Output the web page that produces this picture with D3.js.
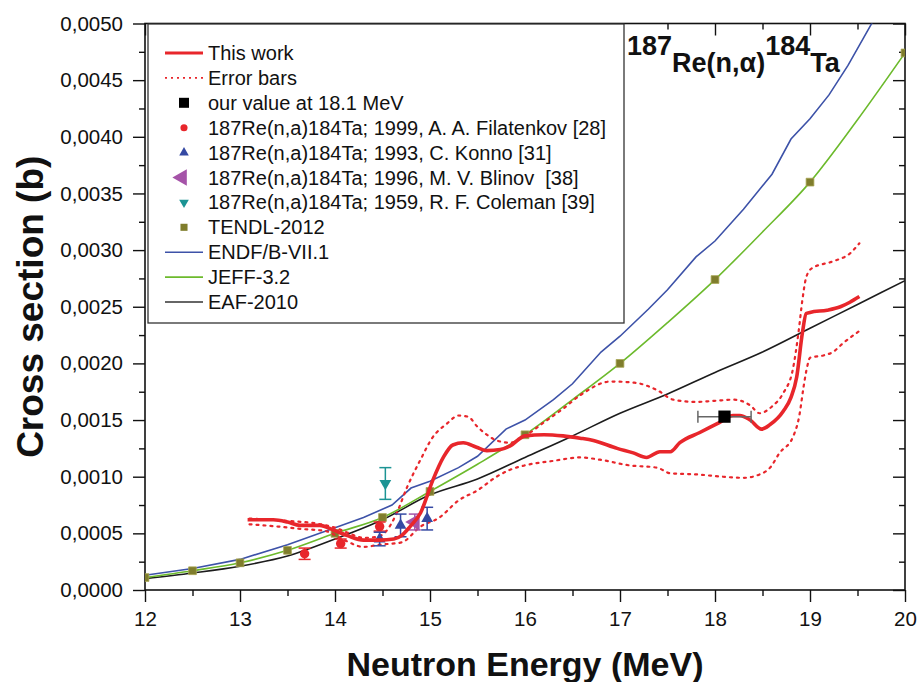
<!DOCTYPE html>
<html>
<head>
<meta charset="utf-8">
<script src="https://cdn.jsdelivr.net/npm/d3@7"></script>
<style>
  html, body { margin: 0; padding: 0; background: #fff; }
  svg { display: block; font-family: "Liberation Sans", Arial, sans-serif; }
</style>
</head>
<body>
<svg id="chart" width="921" height="682"></svg>
<script>
// ---- data: [energy (MeV), cross section (b)] ----
const thisWork = [
  [13.08,0.00062],[13.35,0.00062],[13.5,0.0006],[13.63,0.00057],[13.84,0.00057],[13.98,0.00053],
  [14.13,0.00048],[14.3,0.00044],[14.47,0.00044],[14.62,0.00045],[14.7,0.00048],[14.79,0.00056],
  [14.9,0.00068],[15.03,0.00097],[15.14,0.00117],[15.24,0.00128],[15.35,0.0013],[15.49,0.00126],
  [15.6,0.00123],[15.74,0.00124],[15.84,0.00127],[16.0,0.00136],[16.2,0.00137],[16.4,0.00136],
  [16.58,0.00134],[16.72,0.00132],[16.97,0.00125],[17.14,0.00121],[17.28,0.00117],[17.42,0.00122],
  [17.53,0.00122],[17.63,0.0013],[17.84,0.00139],[18.05,0.00148],[18.19,0.00154],[18.26,0.00154],
  [18.37,0.0015],[18.49,0.00142],[18.58,0.00146],[18.72,0.00158],[18.8,0.0017],[18.86,0.00188],
  [18.92,0.00227],[18.96,0.00244],[19.0,0.00245],[19.18,0.00247],[19.32,0.0025],[19.42,0.00254],
  [19.52,0.00259]
];
const errUpper = [
  [13.1,0.00063],[13.5,0.00061],[13.85,0.00058],[14.0,0.00055],[14.15,0.0005],[14.3,0.00046],
  [14.45,0.00047],[14.55,0.00053],[14.65,0.00068],[14.76,0.00091],[14.9,0.00115],[15.03,0.00135],
  [15.18,0.00147],[15.3,0.00154],[15.4,0.00153],[15.5,0.00144],[15.6,0.00137],[15.7,0.00132],
  [15.84,0.0013],[16.0,0.00136],[16.2,0.00148],[16.4,0.0016],[16.6,0.00173],[16.9,0.00184],
  [17.15,0.00183],[17.4,0.00176],[17.56,0.00168],[17.8,0.00166],[18.0,0.00167],[18.2,0.00168],
  [18.37,0.00163],[18.47,0.00156],[18.6,0.00162],[18.72,0.00174],[18.82,0.00195],[18.88,0.00228],
  [18.92,0.00256],[18.96,0.00276],[19.02,0.00284],[19.24,0.0029],[19.42,0.00297],[19.52,0.00306]
];
const errLower = [
  [13.1,0.00058],[13.4,0.00056],[13.63,0.00054],[13.9,0.00052],[14.1,0.00044],[14.3,0.00038],
  [14.47,0.0004],[14.7,0.00042],[14.9,0.00056],[15.1,0.00064],[15.3,0.00079],[15.5,0.00088],
  [15.7,0.001],[15.84,0.00106],[16.0,0.0011],[16.3,0.00114],[16.58,0.00117],[16.79,0.00115],
  [17.1,0.0011],[17.39,0.00108],[17.53,0.00103],[17.81,0.00102],[18.08,0.001],[18.3,0.00099],
  [18.47,0.00102],[18.58,0.00108],[18.68,0.00121],[18.82,0.00135],[18.89,0.00155],[18.93,0.00178],
  [18.97,0.00197],[19.0,0.00205],[19.14,0.00207],[19.24,0.0021],[19.35,0.00218],[19.51,0.00228]
];
const endf = [
  [12,0.00013],[12.5,0.00019],[13,0.00027],[13.5,0.0004],[14,0.00055],[14.3,0.00064],[14.6,0.00075],
  [14.8,0.0009],[15,0.00096],[15.3,0.00108],[15.5,0.00118],[15.8,0.00142],[16,0.0015],[16.3,0.00168],
  [16.5,0.00182],[16.8,0.0021],[17,0.00224],[17.3,0.00248],[17.5,0.00265],[17.8,0.00294],[18,0.00308],
  [18.3,0.00336],[18.6,0.00367],[18.8,0.00398],[19,0.00416],[19.2,0.00437],[19.4,0.00463],
  [19.65,0.005],[20,0.0056]
];
const jeff = [
  [12,0.00011],[12.5,0.00017],[13,0.00024],[13.5,0.00035],[14,0.0005],[14.5,0.00064],[15,0.00087],
  [15.5,0.00111],[16,0.00137],[16.5,0.00168],[17,0.002],[17.5,0.00236],[18,0.00274],[18.5,0.00316],
  [19,0.0036],[19.5,0.00415],[20,0.00474]
];
const eaf = [
  [12,0.0001],[12.5,0.00015],[13,0.00021],[13.5,0.0003],[14,0.00045],[14.5,0.00062],[15,0.00084],
  [15.5,0.00098],[16,0.00117],[16.5,0.00136],[17,0.00156],[17.5,0.00173],[18,0.00192],[18.5,0.0021],
  [19,0.00231],[19.5,0.00252],[20,0.00273]
];
const tendl = [
  [12,0.00011],[12.5,0.00017],[13,0.00024],[13.5,0.00035],[14,0.0005],[14.5,0.00064],[15,0.00087],
  [16,0.00137],[17,0.002],[18,0.00274],[19,0.0036],[20,0.00474]
];
// experimental points: [energy, value, error]
const ourValue = [[18.1, 0.00153, 0.28]];          // error is in energy (MeV)
const filatenkov = [[13.68,0.00032,0.00005],[14.06,0.00041,0.00004],[14.47,0.00056,0.00004]];
const konno = [[14.47,0.00045,0.00006],[14.69,0.00057,0.0001],[14.97,0.00063,0.0001]];
const blinov = [[14.84,0.0006,0.00007]];
const coleman = [[14.53,0.00094,0.00014]];

const xTicks = [12,13,14,15,16,17,18,19,20];
const yTicks = [0,0.0005,0.001,0.0015,0.002,0.0025,0.003,0.0035,0.004,0.0045,0.005];

const legendItems = [
  "This work", "Error bars", "our value at 18.1 MeV",
  "187Re(n,a)184Ta; 1999, A. A. Filatenkov [28]",
  "187Re(n,a)184Ta; 1993, C. Konno [31]",
  "187Re(n,a)184Ta; 1996, M. V. Blinov  [38]",
  "187Re(n,a)184Ta; 1959, R. F. Coleman [39]",
  "TENDL-2012", "ENDF/B-VII.1", "JEFF-3.2", "EAF-2010"
];

// ---- layout ----
const svg = d3.select("#chart");
const L = 145, R = 905, T = 23.5, B = 590;
const x = d3.scaleLinear().domain([12, 20]).range([L, R]);
const y = d3.scaleLinear().domain([0, 0.005]).range([B, T]);

const C = {
  red: "#e8262b", blue: "#3d52a8", green: "#6cba2c", black: "#1c1c1c",
  olive: "#7f7d2c", teal: "#1c9494", purple: "#a553a8", konno: "#3549a3"
};

svg.append("rect").attr("width", 921).attr("height", 682).attr("fill", "#fff");

svg.append("clipPath").attr("id", "plotclip")
  .append("rect").attr("x", L).attr("y", T).attr("width", R - L).attr("height", B - T);

const fmt = v => d3.format(".4f")(v).replace(".", ",");

// axes
const minorX = d3.range(12.5, 20, 1);
const minorY = d3.range(0.00025, 0.005, 0.0005);

function styleAxis(g) {
  g.selectAll("path").remove();
  g.selectAll("line").attr("stroke", "#111").attr("stroke-width", 1.4);
  g.selectAll("text").attr("fill", "#111").attr("font-size", 20.5);
}

svg.append("g").attr("transform", `translate(0,${B})`)
  .call(d3.axisBottom(x).tickValues(xTicks).tickSize(12).tickPadding(9).tickFormat(d3.format("d")))
  .call(styleAxis);
svg.append("g").attr("transform", `translate(0,${B})`)
  .call(d3.axisBottom(x).tickValues(minorX).tickSize(6).tickFormat(""))
  .call(styleAxis);
svg.append("g").attr("transform", `translate(${L},0)`)
  .call(d3.axisLeft(y).tickValues(yTicks).tickSize(12).tickPadding(10).tickFormat(fmt))
  .call(styleAxis);
svg.append("g").attr("transform", `translate(${L},0)`)
  .call(d3.axisLeft(y).tickValues(minorY).tickSize(6).tickFormat(""))
  .call(styleAxis);
// inward ticks on the top and right edges
svg.append("g").attr("transform", `translate(0,${T})`)
  .call(d3.axisBottom(x).tickValues(xTicks).tickSize(12).tickFormat(""))
  .call(styleAxis);
svg.append("g").attr("transform", `translate(0,${T})`)
  .call(d3.axisBottom(x).tickValues(minorX).tickSize(6).tickFormat(""))
  .call(styleAxis);
svg.append("g").attr("transform", `translate(${R},0)`)
  .call(d3.axisLeft(y).tickValues(yTicks).tickSize(12).tickFormat(""))
  .call(styleAxis);
svg.append("g").attr("transform", `translate(${R},0)`)
  .call(d3.axisLeft(y).tickValues(minorY).tickSize(6).tickFormat(""))
  .call(styleAxis);

svg.append("rect").attr("x", L).attr("y", T).attr("width", R - L).attr("height", B - T)
  .attr("fill", "none").attr("stroke", "#111").attr("stroke-width", 1.6);

// axis titles
svg.append("text").attr("x", (L + R) / 2).attr("y", 676).attr("text-anchor", "middle")
  .attr("font-size", 34).attr("font-weight", "bold").attr("fill", "#111")
  .text("Neutron Energy (MeV)");
svg.append("text").attr("transform", `translate(43,${(T + B) / 2}) rotate(-90)`)
  .attr("text-anchor", "middle").attr("font-size", 37).attr("font-weight", "bold").attr("fill", "#111")
  .text("Cross section (b)");

// ---- plot content ----
const plot = svg.append("g").attr("clip-path", "url(#plotclip)");
const line = d3.line().x(d => x(d[0])).y(d => y(d[1]));
const smooth = d3.line().x(d => x(d[0])).y(d => y(d[1])).curve(d3.curveMonotoneX);

plot.append("path").datum(eaf).attr("d", smooth).attr("fill", "none")
  .attr("stroke", C.black).attr("stroke-width", 1.6);
plot.append("path").datum(jeff).attr("d", smooth).attr("fill", "none")
  .attr("stroke", C.green).attr("stroke-width", 1.6);
plot.append("path").datum(endf).attr("d", line).attr("fill", "none")
  .attr("stroke", C.blue).attr("stroke-width", 1.6);

plot.selectAll(".tendl").data(tendl).join("path").attr("class", "tendl")
  .attr("transform", d => `translate(${x(d[0])},${y(d[1])})`)
  .attr("d", d3.symbol(d3.symbolSquare, 60)())
  .attr("fill", C.olive).attr("stroke", "#a7a550").attr("stroke-width", 0.8);

[errUpper, errLower].forEach(s => {
  plot.append("path").datum(s).attr("d", smooth).attr("fill", "none")
    .attr("stroke", C.red).attr("stroke-width", 2.2).attr("stroke-dasharray", "2,5")
    .attr("stroke-linecap", "round");
});

// vertical error bars with caps
function vErr(data, color) {
  const g = plot.append("g").attr("stroke", color).attr("stroke-width", 1.5);
  data.forEach(d => {
    const x0 = x(d[0]), y1 = y(d[1] + d[2]), y2 = y(d[1] - d[2]);
    g.append("line").attr("x1", x0).attr("x2", x0).attr("y1", y1).attr("y2", y2);
    g.append("line").attr("x1", x0 - 6).attr("x2", x0 + 6).attr("y1", y1).attr("y2", y1);
    g.append("line").attr("x1", x0 - 6).attr("x2", x0 + 6).attr("y1", y2).attr("y2", y2);
  });
}
function markers(data, type, size, color, rot) {
  plot.selectAll(null).data(data).join("path")
    .attr("transform", d => `translate(${x(d[0])},${y(d[1])}) rotate(${rot || 0})`)
    .attr("d", d3.symbol(type, size)())
    .attr("fill", color);
}

vErr(coleman, C.teal);
markers(coleman, d3.symbolTriangle, 60, C.teal, 180);
vErr(filatenkov, C.red);
markers(filatenkov, d3.symbolCircle, 70, C.red);
vErr(blinov, C.purple);
markers(blinov, d3.symbolTriangle, 120, C.purple, -90);
vErr(konno, C.konno);
markers(konno, d3.symbolTriangle, 60, C.konno);

plot.append("path").datum(thisWork).attr("d", smooth).attr("fill", "none")
  .attr("stroke", C.red).attr("stroke-width", 3.6).attr("stroke-linejoin", "round");

// our value with horizontal (energy) error bar
ourValue.forEach(d => {
  const g = plot.append("g").attr("stroke", "#666").attr("stroke-width", 1.5);
  const yy = y(d[1]), xa = x(d[0] - d[2]), xb = x(d[0] + d[2]);
  g.append("line").attr("x1", xa).attr("x2", xb).attr("y1", yy).attr("y2", yy);
  g.append("line").attr("x1", xa).attr("x2", xa).attr("y1", yy - 6).attr("y2", yy + 6);
  g.append("line").attr("x1", xb).attr("x2", xb).attr("y1", yy - 6).attr("y2", yy + 6);
});
markers(ourValue, d3.symbolSquare, 150, "#000");

// ---- reaction label ----
const title = svg.append("text").attr("x", 627).attr("y", 72)
  .attr("font-size", 27).attr("font-weight", "bold").attr("fill", "#111");
title.append("tspan").attr("dy", -17).text("187");
title.append("tspan").attr("dy", 17).text("Re(n,\u03b1)");
title.append("tspan").attr("dy", -17).text("184");
title.append("tspan").attr("dy", 17).text("Ta");

// ---- legend ----
const lg = svg.append("g");
lg.append("rect").attr("x", 148).attr("y", 24).attr("width", 476).attr("height", 299)
  .attr("fill", "#fff").attr("stroke", "#333").attr("stroke-width", 1.3);

const rowY = i => 53 + i * 24.9;
const sx0 = 165, sx1 = 203, sxm = 184;
const legendGlyph = [
  g => g.append("line").attr("x1", sx0).attr("x2", sx1).attr("stroke", C.red).attr("stroke-width", 3),
  g => g.append("line").attr("x1", sx0).attr("x2", sx1).attr("stroke", C.red).attr("stroke-width", 1.6).attr("stroke-dasharray", "2,4"),
  g => g.append("path").attr("transform", `translate(${sxm},0)`).attr("d", d3.symbol(d3.symbolSquare, 100)()).attr("fill", "#000"),
  g => g.append("path").attr("transform", `translate(${sxm},0)`).attr("d", d3.symbol(d3.symbolCircle, 40)()).attr("fill", C.red),
  g => g.append("path").attr("transform", `translate(${sxm},0)`).attr("d", d3.symbol(d3.symbolTriangle, 40)()).attr("fill", C.konno),
  g => g.append("path").attr("transform", `translate(${sxm - 2},0) rotate(-90)`).attr("d", d3.symbol(d3.symbolTriangle, 120)()).attr("fill", C.purple),
  g => g.append("path").attr("transform", `translate(${sxm},0) rotate(180)`).attr("d", d3.symbol(d3.symbolTriangle, 40)()).attr("fill", C.teal),
  g => g.append("path").attr("transform", `translate(${sxm},0)`).attr("d", d3.symbol(d3.symbolSquare, 50)()).attr("fill", C.olive),
  g => g.append("line").attr("x1", sx0).attr("x2", sx1).attr("stroke", C.blue).attr("stroke-width", 1.6),
  g => g.append("line").attr("x1", sx0).attr("x2", sx1).attr("stroke", C.green).attr("stroke-width", 1.6),
  g => g.append("line").attr("x1", sx0).attr("x2", sx1).attr("stroke", "#333").attr("stroke-width", 1.6)
];
legendItems.forEach((label, i) => {
  const g = lg.append("g").attr("transform", `translate(0,${rowY(i)})`);
  legendGlyph[i](g);
  g.append("text").attr("x", 208).attr("y", 7).attr("font-size", 20).attr("fill", "#111")
    .style("white-space", "pre").text(label);
});
</script>
</body>
</html>
